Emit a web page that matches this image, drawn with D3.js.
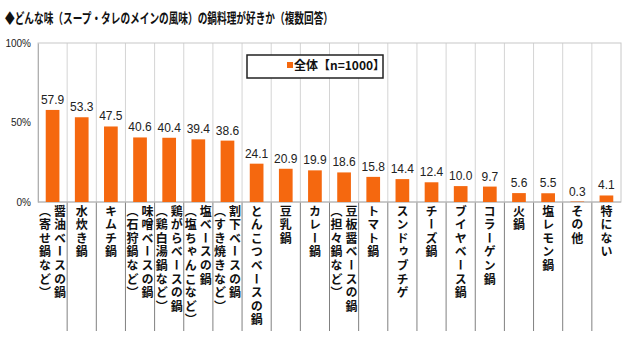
<!DOCTYPE html>
<html><head><meta charset="utf-8">
<script src="https://cdn.jsdelivr.net/npm/d3@7"></script>
<style>body{margin:0;background:#fff}svg{display:block}</style>
</head><body>
<svg id="c" width="640" height="352"></svg>
<script>
const title = "◆どんな味（スープ・タレのメインの風味）の鍋料理が好きか（複数回答）";
const seriesName = "全体【n=1000】";
const labelMain = ["醤油ベースの鍋","水炊き鍋","キムチ鍋","味噌ベースの鍋","鶏がらベースの鍋","塩ベースの鍋","割下ベースの鍋","とんこつベースの鍋","豆乳鍋","カレー鍋","豆板醤ベースの鍋","トマト鍋","スンドゥブチゲ","チーズ鍋","ブイヤベース鍋","コラーゲン鍋","火鍋","塩レモン鍋","その他","特にない"];
const labelSub = ["（寄せ鍋など）","","","（石狩鍋など）","（鶏白湯鍋など）","（塩ちゃんこなど）","（すき焼きなど）","","","","（担々鍋など）","","","","","","","","",""];
const values = [57.9,53.3,47.5,40.6,40.4,39.4,38.6,24.1,20.9,19.9,18.6,15.8,14.4,12.4,10.0,9.7,5.6,5.5,0.3,4.1];
const yTicks = [0,50,100];

const svg = d3.select("#c");
const L = 38, R = 621, T = 43, B = 202;
const ids = values.map((d,i)=>i);
const x = d3.scaleBand().domain(ids).range([L,R]).paddingInner(0).paddingOuter(0);
const y = d3.scaleLinear().domain([0,100]).range([B,T]);
const orange = "#F5680F";
const jp = "'Noto Sans CJK JP','Noto Sans',sans-serif";
const lat = "'Liberation Sans',Arial,sans-serif";

// title
svg.append("text").attr("x",5).attr("y",22.5).attr("font-family",jp).attr("font-weight","bold")
  .attr("font-size",14).attr("textLength",328).attr("lengthAdjust","spacingAndGlyphs").attr("fill","#111").text(title);

// vertical gridlines inside plot
svg.append("g").selectAll("line").data(ids.slice(1)).join("line")
  .attr("x1",d=>x(d)).attr("x2",d=>x(d)).attr("y1",T).attr("y2",B)
  .attr("stroke","#d4d4d4").attr("stroke-width",1);
// dividers in label area
svg.append("g").selectAll("line").data(ids.slice(1)).join("line")
  .attr("x1",d=>x(d)).attr("x2",d=>x(d)).attr("y1",B).attr("y2",331)
  .attr("stroke","#808080").attr("stroke-width",1);
// plot border
svg.append("rect").attr("x",L).attr("y",T).attr("width",R-L).attr("height",B-T)
  .attr("fill","none").attr("stroke","#c8c8c8");
// y axis
const yAxis = d3.axisLeft(y).tickValues(yTicks).tickFormat(d=>d+"%").tickSize(0).tickPadding(7);
const ga = svg.append("g").attr("transform",`translate(${L},0)`).call(yAxis);
ga.select(".domain").attr("stroke","#b0b0b0");
ga.selectAll("text").attr("font-family",lat).attr("font-size",10).attr("fill","#222");
// baseline
svg.append("line").attr("x1",L).attr("x2",R).attr("y1",B).attr("y2",B).attr("stroke","#b0b0b0");

// bars
const bw = x.bandwidth()*0.47;
svg.append("g").selectAll("rect").data(ids).join("rect")
  .attr("x",d=>x(d)+x.bandwidth()/2-bw/2).attr("width",bw)
  .attr("y",d=>y(values[d])).attr("height",d=>B-y(values[d])).attr("fill",orange);
// value labels
svg.append("g").selectAll("text").data(ids).join("text")
  .attr("x",d=>x(d)+x.bandwidth()/2).attr("y",d=>y(values[d])-6)
  .attr("text-anchor","middle").attr("font-family",lat).attr("font-size",12).attr("fill","#222")
  .text(d=>values[d].toFixed(1));

// category labels (vertical)
const lg = svg.append("g");
ids.forEach(i=>{
  const cx = x(i)+x.bandwidth()/2;
  const two = labelSub[i] !== "";
  const cols = two ? [[labelMain[i],cx+7.5],[labelSub[i],cx-7.5]] : [[labelMain[i],cx]];
  cols.forEach(([t,xx])=>{
    lg.append("text").attr("x",xx).attr("y",205)
      .style("writing-mode","vertical-rl").attr("font-family",jp).attr("font-weight","bold")
      .attr("font-size",12).attr("letter-spacing",1.6).attr("fill","#111").text(t);
  });
});

// legend
const lgx = 247, lgy = 55, lgw = 136, lgh = 23;
svg.append("rect").attr("x",lgx).attr("y",lgy).attr("width",lgw).attr("height",lgh)
  .attr("fill","#fff").attr("stroke","#222").attr("stroke-width",1.5);
svg.append("rect").attr("x",287).attr("y",62).attr("width",6).attr("height",6).attr("fill",orange);
svg.append("text").attr("x",294).attr("y",70).attr("font-family",jp).attr("font-weight","bold")
  .attr("font-size",12).attr("fill","#111").text(seriesName);
</script>
</body></html>
